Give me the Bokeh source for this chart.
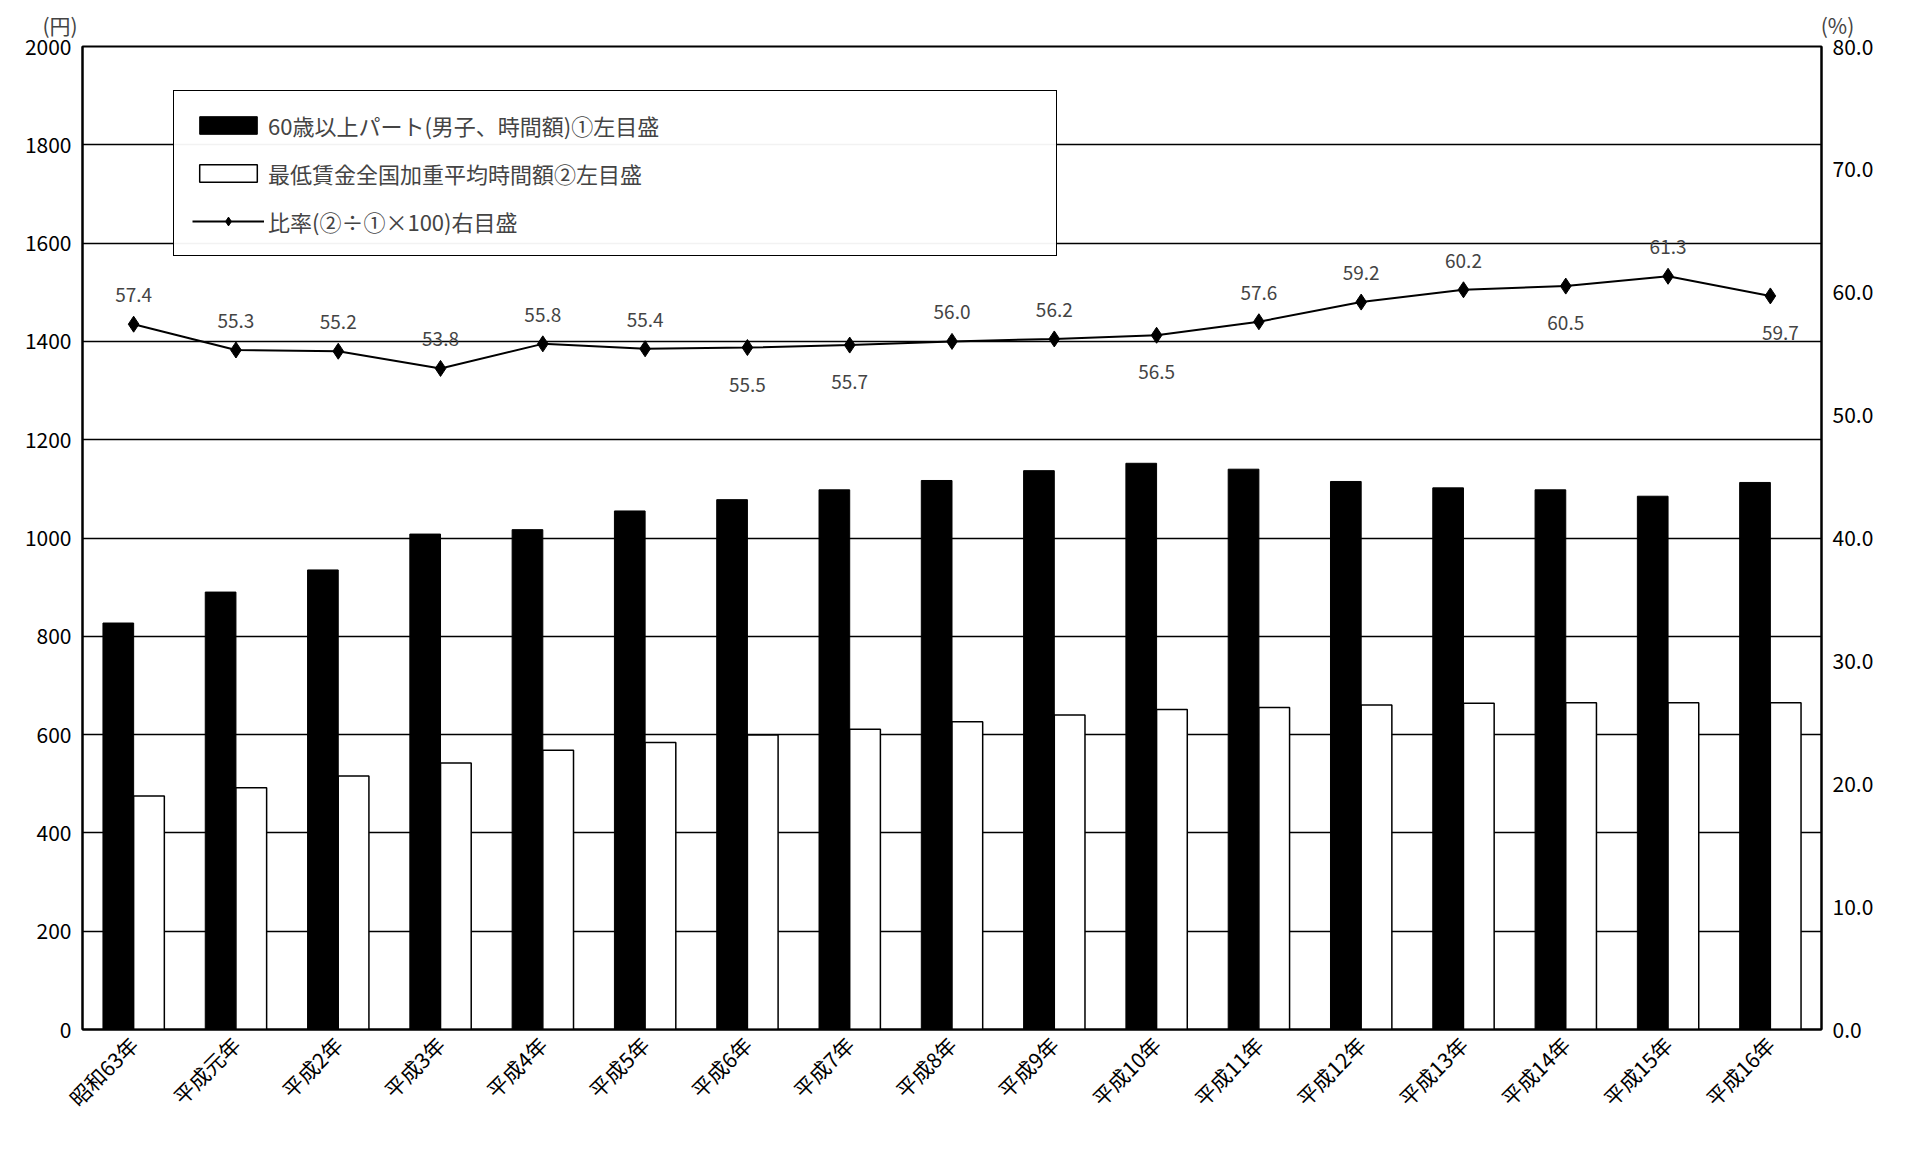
from bokeh.plotting import figure
from bokeh.models import Range1d, LinearAxis, FixedTicker, Label, Legend, LegendItem, NumeralTickFormatter, Title
from bokeh.embed import file_html
from bokeh.resources import INLINE

years = ["昭和63年", "平成元年", "平成2年", "平成3年", "平成4年", "平成5年", "平成6年", "平成7年",
         "平成8年", "平成9年", "平成10年", "平成11年", "平成12年", "平成13年", "平成14年", "平成15年", "平成16年"]
part60 = [827, 890, 935, 1008, 1017, 1055, 1078, 1098, 1117, 1137, 1152, 1140, 1115, 1102, 1098, 1085, 1113]
minwage = [475, 492, 516, 542, 568, 584, 599, 611, 626, 640, 651, 655, 660, 664, 665, 665, 665]
ratio = [57.4, 55.3, 55.2, 53.8, 55.8, 55.4, 55.5, 55.7, 56.0, 56.2, 56.5, 57.6, 59.2, 60.2, 60.5, 61.3, 59.7]
below = [6, 7, 10, 14, 16]

FONT = "Noto Sans CJK JP"
n = len(years)
x = list(range(n))

p = figure(width=1890, height=1135, frame_width=1739, frame_height=983,
           min_border_left=82, min_border_top=8, min_border_right=69,
           x_range=Range1d(-0.5, n - 0.5), y_range=Range1d(0, 2000),
           output_backend="svg", toolbar_location=None)
p.outline_line_color = "black"
p.outline_line_width = 2
p.extra_y_ranges = {"pct": Range1d(0, 80)}

p.add_layout(Title(text="(円)" + "\u3000" * 83 + "(%)", align="left", offset=-40,
                   text_font=FONT, text_font_size="21px", text_font_style="normal",
                   standoff=14), "above")

b1 = p.vbar(x=[i - 0.15 for i in x], top=part60, width=0.3, fill_color="black", line_color="black")
b2 = p.vbar(x=[i + 0.15 for i in x], top=minwage, width=0.3, fill_color="white", line_color="black", line_width=1.5)
ln = p.line(x=x, y=ratio, y_range_name="pct", line_color="black", line_width=2)
mk = p.scatter(x=x, y=ratio, y_range_name="pct", marker="diamond", size=16, color="black")

for i, r in enumerate(ratio):
    dy = -44 if i in below else 22
    dx = 10 if i == 16 else 0
    p.add_layout(Label(x=i, y=r, y_range_name="pct", text=f"{r:.1f}", x_offset=dx, y_offset=dy,
                       text_align="center", text_font=FONT, text_font_size="19px"))

p.xgrid.visible = False
p.ygrid.ticker = FixedTicker(ticks=list(range(0, 2001, 200)))
p.ygrid.grid_line_color = "black"
p.ygrid.grid_line_width = 1.5

p.yaxis.ticker = FixedTicker(ticks=list(range(0, 2001, 200)))
p.yaxis.major_tick_line_color = None
p.yaxis.minor_tick_line_color = None
p.yaxis.axis_line_width = 2
p.yaxis.major_label_text_font = FONT
p.yaxis.major_label_text_font_size = "21px"
p.yaxis.major_label_text_color = "black"

ra = LinearAxis(y_range_name="pct", ticker=FixedTicker(ticks=list(range(0, 81, 10))),
                formatter=NumeralTickFormatter(format="0.0"))
ra.major_tick_line_color = None
ra.minor_tick_line_color = None
ra.axis_line_width = 2
ra.major_label_text_font = FONT
ra.major_label_text_font_size = "21px"
ra.major_label_text_color = "black"
p.add_layout(ra, "right")

p.xaxis.ticker = FixedTicker(ticks=x)
p.xaxis.major_label_overrides = {i: y for i, y in enumerate(years)}
p.xaxis.major_label_orientation = 0.785
p.xaxis.major_tick_line_color = None
p.xaxis.axis_line_width = 2
p.xaxis.major_label_text_font = FONT
p.xaxis.major_label_text_font_size = "21px"
p.xaxis.major_label_text_color = "black"

legend = Legend(items=[
    LegendItem(label="60歳以上パート(男子、時間額)①左目盛", renderers=[b1]),
    LegendItem(label="最低賃金全国加重平均時間額②左目盛", renderers=[b2]),
    LegendItem(label="比率(②÷①×100)右目盛", renderers=[ln, mk]),
], location=(91, 773), label_text_font=FONT, label_text_font_size="22px",
    border_line_color="black", border_line_alpha=1, border_line_width=1.5, spacing=16,
    glyph_width=72, glyph_height=22, margin=0, label_width=770,
    label_standoff=4)
legend.padding = 18
p.add_layout(legend, "center")

open("out.html", "w").write(file_html(p, INLINE))
